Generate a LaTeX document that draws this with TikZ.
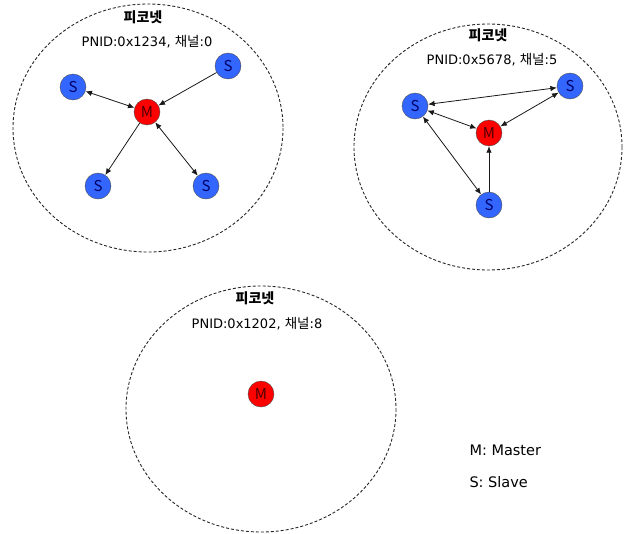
\documentclass[tikz,border=0pt]{standalone}
\usepackage{fontspec}
\setmainfont{DejaVu Sans}
\newfontfamily\kr{Noto Sans CJK KR}
\usetikzlibrary{arrows.meta}
\definecolor{nodeblue}{RGB}{51,102,255}
\definecolor{nodered}{RGB}{255,0,0}
\begin{document}
\begin{tikzpicture}[x=1pt,y=-1pt,
  area/.style={draw=black!85,dash pattern=on 3pt off 2pt,line width=0.9pt},
  slave/.style={circle,draw=black!70,fill=nodeblue,minimum size=26pt,inner sep=0pt,font=\kr\fontsize{15}{15}\selectfont,text=black!60!blue},
  master/.style={circle,draw=black!70,fill=nodered,minimum size=26pt,inner sep=0pt,font=\kr\fontsize{15}{15}\selectfont,text=black!70!red},
  title/.style={font=\kr\fontsize{14}{14}\selectfont\bfseries},
  info/.style={font=\fontsize{13}{13}\selectfont},
  legend/.style={font=\fontsize{14.5}{15}\selectfont,anchor=west},
  link/.style={line width=0.8pt,black!90},
  tip/.style={-{Latex[length=6.5pt,width=5.5pt]}},
  both/.style={{Latex[length=6.5pt,width=5.5pt]}-{Latex[length=6.5pt,width=5.5pt]}}
]
\useasboundingbox (0,0) rectangle (629,533);
% piconet 1
\draw[area] (148,128) ellipse [x radius=135, y radius=124];
\node[title] (t1) at (143,17) {피코넷};
\node[info] (p1) at (147,42) {PNID:0x1234, {\kr\fontsize{13.5}{13}\selectfont 채널}:0};
\node[master] (m1) at (147,112) {M};
\node[slave] (s1a) at (73,87) {S};
\node[slave] (s1b) at (228,66) {S};
\node[slave] (s1c) at (98,186) {S};
\node[slave] (s1d) at (206,186) {S};
\draw[link,both] (s1a) -- (m1);
\draw[link,tip] (s1b) -- (m1);
\draw[link,tip] (m1) -- (s1c);
\draw[link,both] (m1) -- (s1d);
% piconet 2
\draw[area] (488,147) ellipse [x radius=134, y radius=123];
\node[title] (t2) at (488,35) {피코넷};
\node[info] (p2) at (492,60) {PNID:0x5678, {\kr\fontsize{13.5}{13}\selectfont 채널}:5};
\node[master] (m2) at (489,133) {M};
\node[slave] (s2a) at (415,106) {S};
\node[slave] (s2b) at (570,86) {S};
\node[slave] (s2c) at (489,205) {S};
\draw[link,both] (s2a) -- (s2b);
\draw[link,both] (s2a) -- (m2);
\draw[link,both] (s2b) -- (m2);
\draw[link,both] (s2a) -- (s2c);
\draw[link,tip] (s2c) -- (m2);
% piconet 3
\draw[area] (261,409) ellipse [x radius=135, y radius=123];
\node[title] (t3) at (255,298) {피코넷};
\node[info] (p3) at (257,324) {PNID:0x1202, {\kr\fontsize{13.5}{13}\selectfont 채널}:8};
\node[master] (m3) at (261,394) {M};
% legend
\node[legend] (lm) at (466,450) {M: Master};
\node[legend] (ls) at (466,482) {S: Slave};
\end{tikzpicture}
\end{document}
